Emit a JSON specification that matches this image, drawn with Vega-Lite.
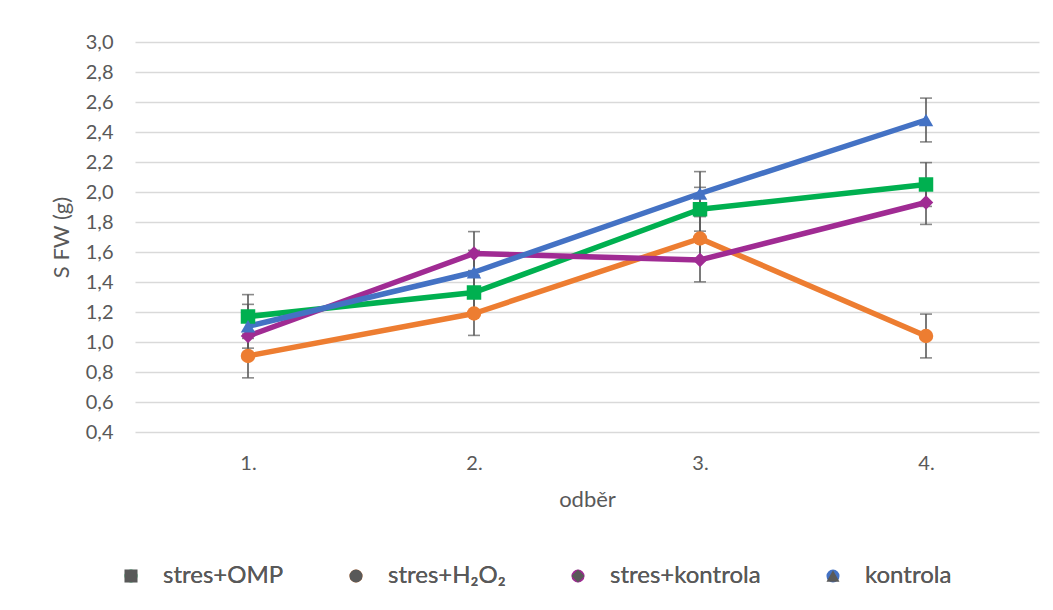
{
  "$schema": "https://vega.github.io/schema/vega-lite/v6.json",
  "width": 904,
  "height": 390,
  "autosize": {"type": "none"},
  "padding": {"left": 135, "top": 42, "right": 14, "bottom": 178},
  "background": "white",
  "data": {
    "values": [
      {"odber": "1.", "serie": "stres+OMP", "v": 1.17, "lo": 1.024, "hi": 1.316},
      {"odber": "2.", "serie": "stres+OMP", "v": 1.33, "lo": 1.184, "hi": 1.476},
      {"odber": "3.", "serie": "stres+OMP", "v": 1.885, "lo": 1.739, "hi": 2.031},
      {"odber": "4.", "serie": "stres+OMP", "v": 2.05, "lo": 1.904, "hi": 2.196},
      {"odber": "1.", "serie": "stres+H₂O₂", "v": 0.907, "lo": 0.761, "hi": 1.053},
      {"odber": "2.", "serie": "stres+H₂O₂", "v": 1.19, "lo": 1.044, "hi": 1.336},
      {"odber": "3.", "serie": "stres+H₂O₂", "v": 1.69, "lo": 1.544, "hi": 1.836},
      {"odber": "4.", "serie": "stres+H₂O₂", "v": 1.04, "lo": 0.894, "hi": 1.186},
      {"odber": "1.", "serie": "stres+kontrola", "v": 1.04, "lo": 0.894, "hi": 1.186},
      {"odber": "2.", "serie": "stres+kontrola", "v": 1.59, "lo": 1.444, "hi": 1.736},
      {"odber": "3.", "serie": "stres+kontrola", "v": 1.547, "lo": 1.401, "hi": 1.693},
      {"odber": "4.", "serie": "stres+kontrola", "v": 1.93, "lo": 1.784, "hi": 2.076},
      {"odber": "1.", "serie": "kontrola", "v": 1.105, "lo": 0.959, "hi": 1.251},
      {"odber": "2.", "serie": "kontrola", "v": 1.465, "lo": 1.319, "hi": 1.611},
      {"odber": "3.", "serie": "kontrola", "v": 1.99, "lo": 1.844, "hi": 2.136},
      {"odber": "4.", "serie": "kontrola", "v": 2.48, "lo": 2.334, "hi": 2.626}
    ]
  },
  "encoding": {
    "x": {
      "field": "odber",
      "type": "ordinal",
      "sort": ["1.", "2.", "3.", "4."],
      "scale": {"type": "point", "padding": 0.5},
      "title": "odběr",
      "axis": {
        "labelAngle": 0,
        "ticks": false,
        "tickSize": 0,
        "domain": false,
        "grid": false,
        "labelFontSize": 20,
        "labelPadding": 21,
        "titleFontSize": 22,
        "titlePadding": 16
      }
    }
  },
  "layer": [
    {
      "mark": {"type": "rule", "color": "#595959", "strokeWidth": 1.6},
      "encoding": {
        "y": {
          "field": "lo",
          "type": "quantitative",
          "title": "S FW (g)",
          "scale": {"domain": [0.4, 3.0], "nice": false, "zero": false},
          "axis": {
            "values": [0.4, 0.6, 0.8, 1.0, 1.2, 1.4, 1.6, 1.8, 2.0, 2.2, 2.4, 2.6, 2.8, 3.0],
            "tickCount": 30,
            "labelExpr": "replace(format(datum.value, '.1f'), '.', ',')",
            "labelOverlap": false,
            "domain": false,
            "ticks": false,
            "tickSize": 0,
            "grid": true,
            "gridColor": "#D9D9D9",
            "gridWidth": 1.3,
            "labelFontSize": 20,
            "labelPadding": 22,
            "titleFontSize": 22,
            "titlePadding": 12
          }
        },
        "y2": {"field": "hi"}
      }
    },
    {
      "mark": {"type": "tick", "color": "#595959", "size": 12, "thickness": 1.6},
      "encoding": {
        "y": {"field": "lo", "type": "quantitative", "title": "S FW (g)"}
      }
    },
    {
      "mark": {"type": "tick", "color": "#595959", "size": 12, "thickness": 1.6},
      "encoding": {
        "y": {"field": "hi", "type": "quantitative", "title": "S FW (g)"}
      }
    },
    {
      "mark": {"type": "line", "strokeWidth": 5.5, "strokeCap": "round", "strokeJoin": "round"},
      "encoding": {
        "y": {"field": "v", "type": "quantitative", "title": "S FW (g)"},
        "stroke": {
          "field": "serie",
          "type": "nominal",
          "legend": null,
          "scale": {
            "domain": ["stres+OMP", "stres+H₂O₂", "stres+kontrola", "kontrola"],
            "range": ["#00B050", "#ED7D31", "#A02B93", "#4472C4"]
          }
        },
        "order": {"field": "odber"}
      }
    },
    {
      "mark": {"type": "point", "filled": true, "opacity": 1, "size": 210},
      "encoding": {
        "y": {"field": "v", "type": "quantitative", "title": "S FW (g)"},
        "color": {
          "field": "serie",
          "type": "nominal",
          "sort": ["stres+OMP", "stres+H₂O₂", "stres+kontrola", "kontrola"],
          "scale": {"range": ["#00B050", "#ED7D31", "#A02B93", "#4472C4"]},
          "legend": {
            "orient": "none",
            "legendX": -16,
            "legendY": 522,
            "direction": "horizontal",
            "columns": 4,
            "title": null,
            "padding": 0,
            "symbolSize": 170,
            "symbolStrokeWidth": 0,
            "symbolFillColor": "#595959",
            "symbolOpacity": 1,
            "labelOffset": 20,
            "columnPadding": 60,
            "labelFontSize": 24,
            "labelFont": "Lato",
            "labelColor": "#595959"
          }
        },
        "shape": {
          "field": "serie",
          "type": "nominal",
          "sort": ["stres+OMP", "stres+H₂O₂", "stres+kontrola", "kontrola"],
          "scale": {"range": ["square", "circle", "diamond", "triangle-up"]},
          "legend": {
            "orient": "none",
            "legendX": -16,
            "legendY": 522,
            "direction": "horizontal",
            "columns": 4,
            "title": null,
            "padding": 0,
            "symbolSize": 170,
            "symbolStrokeWidth": 0,
            "symbolFillColor": "#595959",
            "symbolOpacity": 1,
            "labelOffset": 20,
            "columnPadding": 60,
            "labelFontSize": 24,
            "labelFont": "Lato",
            "labelColor": "#595959"
          }
        }
      }
    }
  ],
  "config": {
    "font": "Lato",
    "view": {"stroke": null},
    "axis": {
      "labelColor": "#595959",
      "titleColor": "#595959",
      "labelFont": "Lato",
      "titleFont": "Lato",
      "titleFontWeight": "normal"
    }
  }
}
